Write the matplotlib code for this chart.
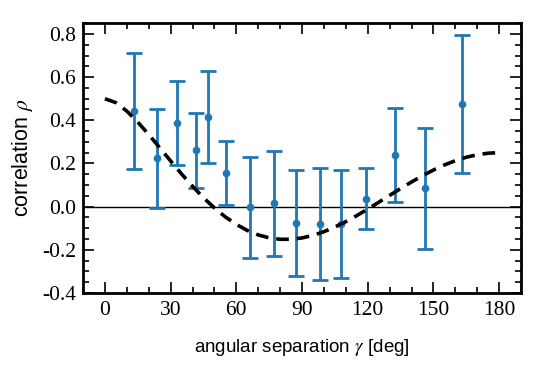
import matplotlib
matplotlib.use('Agg')
from matplotlib import pyplot as plt
from matplotlib.ticker import MultipleLocator

# binned pulsar-pair correlations
angles = [13.4, 23.8, 33.0, 41.4, 47.2, 55.4, 66.1, 77.0, 87.3,
          98.0, 108.0, 119.3, 132.5, 146.1, 162.8]
rho = [0.443, 0.224, 0.389, 0.262, 0.416, 0.155, -0.002, 0.015, -0.075,
       -0.082, -0.080, 0.037, 0.240, 0.085, 0.474]
rho_err = [0.270, 0.230, 0.194, 0.174, 0.213, 0.147, 0.234, 0.242, 0.244,
           0.260, 0.250, 0.141, 0.218, 0.279, 0.320]

# expected curve (read every 5 deg)
curve_gamma = list(range(0, 181, 5))
curve_rho = [0.5, 0.4817, 0.4425, 0.3917, 0.3341, 0.2732, 0.2116, 0.1514,
             0.0943, 0.0414, -0.0062, -0.0476, -0.0824, -0.1102, -0.1309,
             -0.1445, -0.1511, -0.1511, -0.1449, -0.1329, -0.1159, -0.0944,
             -0.0693, -0.0413, -0.0111, 0.0203, 0.0522, 0.0839, 0.1144,
             0.1433, 0.1697, 0.1931, 0.2130, 0.2289, 0.2406, 0.2476, 0.25]

plt.rcParams['mathtext.fontset'] = 'stix'

fig = plt.figure(figsize=(5.4, 3.67), dpi=100)
ax = fig.add_axes([0.1537, 0.2016, 0.8113, 0.7354])

ax.axhline(0, color='k', lw=1.0, zorder=1)
ax.plot(curve_gamma, curve_rho, color='k', ls=(0, (3.5, 2.2)), lw=2.6, zorder=3)
ax.errorbar(angles, rho, yerr=rho_err, fmt='o', color='#1f77b4', ms=4.5,
            elinewidth=2, capsize=6, capthick=2, zorder=2)

ax.set_xlim(-10, 190)
ax.set_ylim(-0.4, 0.85)
ax.xaxis.set_major_locator(MultipleLocator(30))
ax.xaxis.set_minor_locator(MultipleLocator(10))
ax.yaxis.set_major_locator(MultipleLocator(0.2))
ax.yaxis.set_minor_locator(MultipleLocator(0.05))
ax.set_yticks([-0.4, -0.2, 0.0, 0.2, 0.4, 0.6, 0.8])
ax.set_yticklabels(['-0.4', '-0.2', '0.0', '0.2', '0.4', '0.6', '0.8'])
ax.tick_params(which='both', direction='in', top=True, right=True, width=1.2)
ax.tick_params(which='major', length=8)
ax.tick_params(axis='x', which='major', pad=6)
ax.tick_params(axis='y', which='major', pad=5)
ax.tick_params(which='minor', length=4)
for lab in ax.get_xticklabels() + ax.get_yticklabels():
    lab.set_fontfamily('Liberation Serif')
    lab.set_fontsize(15.5)
for s in ax.spines.values():
    s.set_linewidth(2)

ax.set_xlabel(r'angular separation $\gamma$ [deg]', fontsize=13.5,
              fontfamily='Liberation Sans', labelpad=12)
ax.set_ylabel(r'correlation $\rho$', fontsize=15.5,
              fontfamily='Liberation Sans', labelpad=5)

fig.savefig('out.png', dpi=100)
